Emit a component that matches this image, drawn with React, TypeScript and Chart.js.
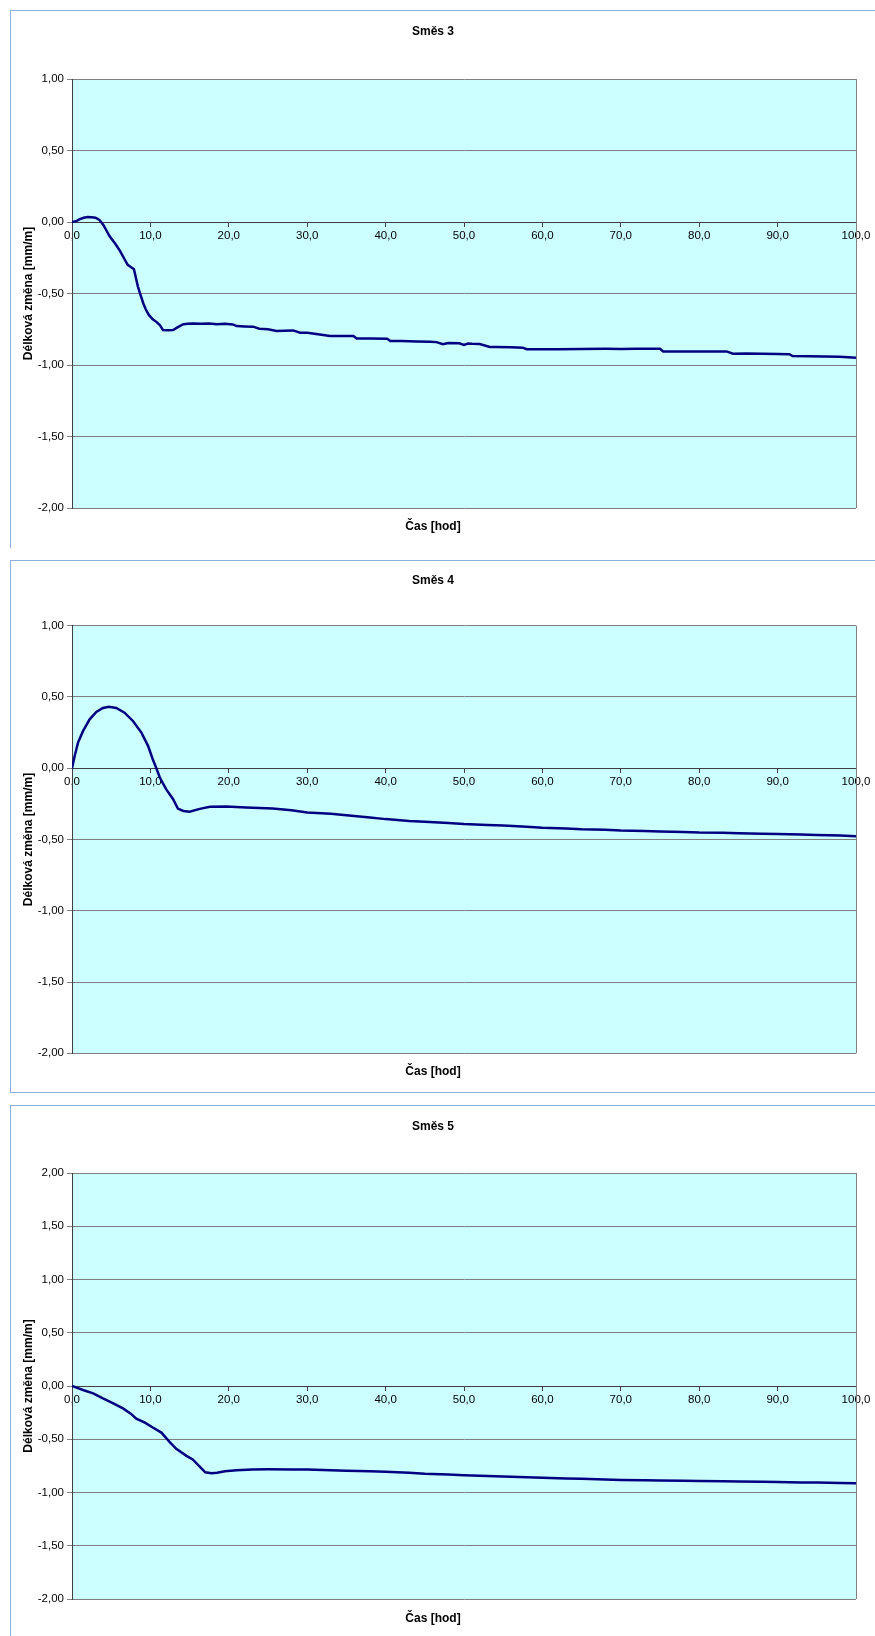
import React, { useEffect, useRef } from "react";
import { Chart, registerables } from "chart.js";

Chart.register(...registerables);

// ---------------- data ----------------
const X_TICKS = [0, 10, 20, 30, 40, 50, 60, 70, 80, 90, 100];
const Y_TICKS_A = [-2, -1.5, -1, -0.5, 0, 0.5, 1];
const Y_TICKS_B = [-2, -1.5, -1, -0.5, 0, 0.5, 1, 1.5, 2];

const TITLES = ["Směs 3", "Směs 4", "Směs 5"];
const X_TITLE = "Čas [hod]";
const Y_TITLE = "Délková změna [mm/m]";

// [time h, length change mm/m]
const smes3: [number, number][] = [
  [0, 0], [0.5, 0.005], [1, 0.02], [1.5, 0.03], [2, 0.035], [2.5, 0.033], [3, 0.03], [3.5, 0.015],
  [4, -0.02], [4.5, -0.07], [4.8, -0.1], [5.5, -0.15], [6.1, -0.2], [6.6, -0.25], [7.1, -0.3],
  [7.5, -0.315], [7.9, -0.33], [8.4, -0.45], [8.8, -0.52], [9.1, -0.57], [9.4, -0.61], [9.8, -0.65],
  [10.3, -0.68], [10.8, -0.7], [11.2, -0.72], [11.6, -0.755], [12.2, -0.757], [12.9, -0.755],
  [13.5, -0.735], [14.2, -0.715], [14.8, -0.712], [15.4, -0.709], [16.5, -0.712], [17.5, -0.71],
  [18.5, -0.715], [19.5, -0.712], [20.5, -0.716], [21, -0.728], [22, -0.73], [23.1, -0.732],
  [23.9, -0.746], [25, -0.75], [26.1, -0.762], [27, -0.76], [28.2, -0.758], [29.1, -0.774],
  [30, -0.775], [31.6, -0.786], [32.9, -0.797], [34, -0.797], [35.9, -0.797], [36.3, -0.814],
  [38, -0.815], [40.2, -0.816], [40.6, -0.832], [42, -0.833], [44, -0.835], [45.7, -0.837],
  [46.5, -0.84], [47.3, -0.855], [48, -0.846], [49.4, -0.848], [50, -0.86], [50.5, -0.85],
  [51, -0.852], [52, -0.853], [53.3, -0.874], [54, -0.874], [56, -0.876], [57.5, -0.879],
  [58, -0.89], [60, -0.889], [62, -0.889], [65, -0.888], [68, -0.887], [70, -0.888], [72, -0.887],
  [75, -0.886], [75.4, -0.905], [78, -0.905], [80, -0.906], [83.5, -0.905], [84.3, -0.921],
  [86, -0.92], [88, -0.922], [90, -0.923], [91.5, -0.925], [91.9, -0.937], [94, -0.938],
  [96, -0.94], [97.9, -0.942], [99, -0.945], [100, -0.949],
];

const smes4: [number, number][] = [
  [0, 0], [0.34, 0.086], [0.77, 0.18], [1.4, 0.26], [2.25, 0.343], [3.1, 0.395], [3.95, 0.423],
  [4.7, 0.432], [5.65, 0.423], [6.7, 0.39], [7.8, 0.33], [8.85, 0.25], [9.7, 0.157], [10.3, 0.063],
  [10.76, 0], [11.2, -0.065], [12, -0.147], [12.9, -0.217], [13.5, -0.283], [14.2, -0.3],
  [15, -0.305], [16.3, -0.285], [17.6, -0.27], [19.7, -0.269], [22.2, -0.276], [25.6, -0.283],
  [28, -0.295], [30, -0.31], [33, -0.32], [35, -0.33], [38, -0.345], [40, -0.357], [43, -0.37],
  [45, -0.375], [48, -0.385], [50, -0.392], [53, -0.398], [55, -0.402], [58, -0.41], [60, -0.418],
  [63, -0.422], [65, -0.428], [68, -0.432], [70, -0.437], [73, -0.44], [75, -0.443], [78, -0.447],
  [80, -0.451], [83, -0.453], [85, -0.456], [88, -0.46], [90, -0.462], [93, -0.465], [95, -0.468],
  [98, -0.472], [100, -0.477],
];

const smes5: [number, number][] = [
  [0, 0], [1.4, -0.0375], [2.7, -0.069], [3.95, -0.116], [5.2, -0.16], [6.5, -0.21], [7.5, -0.26],
  [8.2, -0.306], [9.3, -0.344], [10.3, -0.39], [11.4, -0.4375], [12.5, -0.53], [13.3, -0.59],
  [14.6, -0.656], [15.4, -0.69], [16.2, -0.75], [17, -0.81], [17.8, -0.82], [18.5, -0.815],
  [19.5, -0.8], [21, -0.79], [23, -0.783], [25, -0.782], [28, -0.784], [30, -0.785], [33, -0.79],
  [35, -0.795], [38, -0.8], [40, -0.805], [43, -0.815], [45, -0.825], [48, -0.832], [50, -0.838],
  [53, -0.845], [55, -0.85], [58, -0.857], [60, -0.862], [63, -0.868], [65, -0.872], [68, -0.878],
  [70, -0.882], [73, -0.885], [75, -0.888], [78, -0.89], [80, -0.892], [83, -0.895], [85, -0.897],
  [88, -0.9], [90, -0.902], [93, -0.905], [95, -0.907], [98, -0.91], [100, -0.912],
];

// ---------------- layout ----------------
const FONT = "'Liberation Sans', Arial, Helvetica, sans-serif";
const FRAME_COLOR = "#8FB0DD";

type Block = {
  title: string;
  data: [number, number][];
  yTicks: number[];
  top: number;
  height: number;
  frameBottom: boolean;
  titlePad: { top: number; bottom: number };
  subPad: { top: number; bottom: number };
};

const BLOCKS: Block[] = [
  { title: TITLES[0], data: smes3, yTicks: Y_TICKS_A, top: 10, height: 538, frameBottom: false,
    titlePad: { top: 14.8, bottom: 39.8 }, subPad: { top: 11.5, bottom: 14.1 } },
  { title: TITLES[1], data: smes4, yTicks: Y_TICKS_A, top: 560, height: 533, frameBottom: true,
    titlePad: { top: 13.8, bottom: 37.5 }, subPad: { top: 11.5, bottom: 13.8 } },
  { title: TITLES[2], data: smes5, yTicks: Y_TICKS_B, top: 1105, height: 531, frameBottom: false,
    titlePad: { top: 14.8, bottom: 38.8 }, subPad: { top: 12.4, bottom: 10.2 } },
];

const plotFrame = {
  id: "plotFrame",
  beforeDraw(chart: any) {
    const { ctx, chartArea: a } = chart;
    ctx.save();
    ctx.fillStyle = "#CCFFFF";
    ctx.fillRect(a.left, a.top, a.right - a.left, a.bottom - a.top);
    ctx.restore();
  },
  beforeDatasetsDraw(chart: any) {
    const { ctx, chartArea: a } = chart;
    ctx.save();
    ctx.strokeStyle = "#808080";
    ctx.lineWidth = 1;
    ctx.beginPath();
    ctx.moveTo(Math.round(a.right) + 0.5, a.top);
    ctx.lineTo(Math.round(a.right) + 0.5, a.bottom);
    ctx.stroke();
    ctx.restore();
  },
};

function ChartBlock({ b }: { b: Block }) {
  const ref = useRef<HTMLCanvasElement>(null);
  useEffect(() => {
    if (!ref.current) return;
    const chart = new Chart(ref.current, {
      type: "line",
      data: {
        datasets: [
          {
            data: b.data.map(([x, y]) => ({ x, y })),
            borderColor: "#000080",
            borderWidth: 2.5,
            pointRadius: 0,
            tension: 0,
            fill: false,
          },
        ],
      },
      options: {
        animation: false,
        responsive: false,
        devicePixelRatio: 1,
        layout: { padding: { left: 10, right: 19, top: 0, bottom: 0 } },
        plugins: {
          legend: { display: false },
          tooltip: { enabled: false },
          title: {
            display: true,
            text: b.title,
            color: "#000",
            font: { family: FONT, size: 12, weight: "bold" },
            padding: b.titlePad,
          },
          subtitle: {
            display: true,
            position: "bottom",
            text: X_TITLE,
            color: "#000",
            font: { family: FONT, size: 12, weight: "bold" },
            padding: b.subPad,
          },
        },
        scales: {
          x: {
            type: "linear",
            position: { y: 0 } as any,
            min: 0,
            max: 100,
            afterBuildTicks: (s: any) => {
              s.ticks = X_TICKS.map((v) => ({ value: v }));
            },
            afterFit: (s: any) => {
              s.paddingLeft = 0;
              s.paddingRight = 0;
            },
            ticks: {
              color: "#000",
              font: { family: FONT, size: 11.5 },
              padding: 3,
              maxRotation: 0,
              autoSkip: false,
              callback: (v: any) => Number(v).toFixed(1).replace(".", ","),
            },
            grid: { drawOnChartArea: false, drawTicks: true, tickLength: 4, color: "#404040" },
            border: { display: true, color: "#404040", width: 1 },
          },
          y: {
            type: "linear",
            position: "left",
            min: b.yTicks[0],
            max: b.yTicks[b.yTicks.length - 1],
            afterBuildTicks: (s: any) => {
              s.ticks = b.yTicks.map((v) => ({ value: v }));
            },
            afterFit: (s: any) => {
              s.width = 62;
              s.paddingTop = 0;
              s.paddingBottom = 0;
            },
            ticks: {
              color: "#000",
              font: { family: FONT, size: 11.5 },
              padding: 3,
              autoSkip: false,
              callback: (v: any) => Number(v).toFixed(2).replace(".", ","),
            },
            grid: { color: "#808080", drawTicks: true, tickLength: 5, lineWidth: 1 },
            border: { display: true, color: "#404040", width: 1 },
            title: {
              display: true,
              text: Y_TITLE,
              color: "#000",
              font: { family: FONT, size: 12, weight: "bold" },
              padding: { top: 11.8, bottom: 0 },
            },
          },
        },
      },
      plugins: [plotFrame],
    } as any);
    return () => chart.destroy();
  }, [b]);
  return (
    <canvas
      ref={ref}
      width={875}
      height={b.height}
      style={{ position: "absolute", left: 0, top: b.top, width: 875, height: b.height, display: "block" }}
    />
  );
}

export default function App() {
  return (
    <div
      style={{
        position: "absolute",
        left: 0,
        top: 0,
        width: 875,
        height: 1636,
        overflow: "hidden",
        background: "#fff",
      }}
    >
      {BLOCKS.map((b, i) => (
        <div
          key={"f" + i}
          style={{
            position: "absolute",
            left: 10,
            top: b.top,
            width: 900,
            height: b.height,
            boxSizing: "border-box",
            borderTop: `1px solid ${FRAME_COLOR}`,
            borderLeft: `1px solid ${FRAME_COLOR}`,
            borderBottom: b.frameBottom ? `1px solid ${FRAME_COLOR}` : "none",
          }}
        />
      ))}
      {BLOCKS.map((b, i) => (
        <ChartBlock key={"c" + i} b={b} />
      ))}
    </div>
  );
}
